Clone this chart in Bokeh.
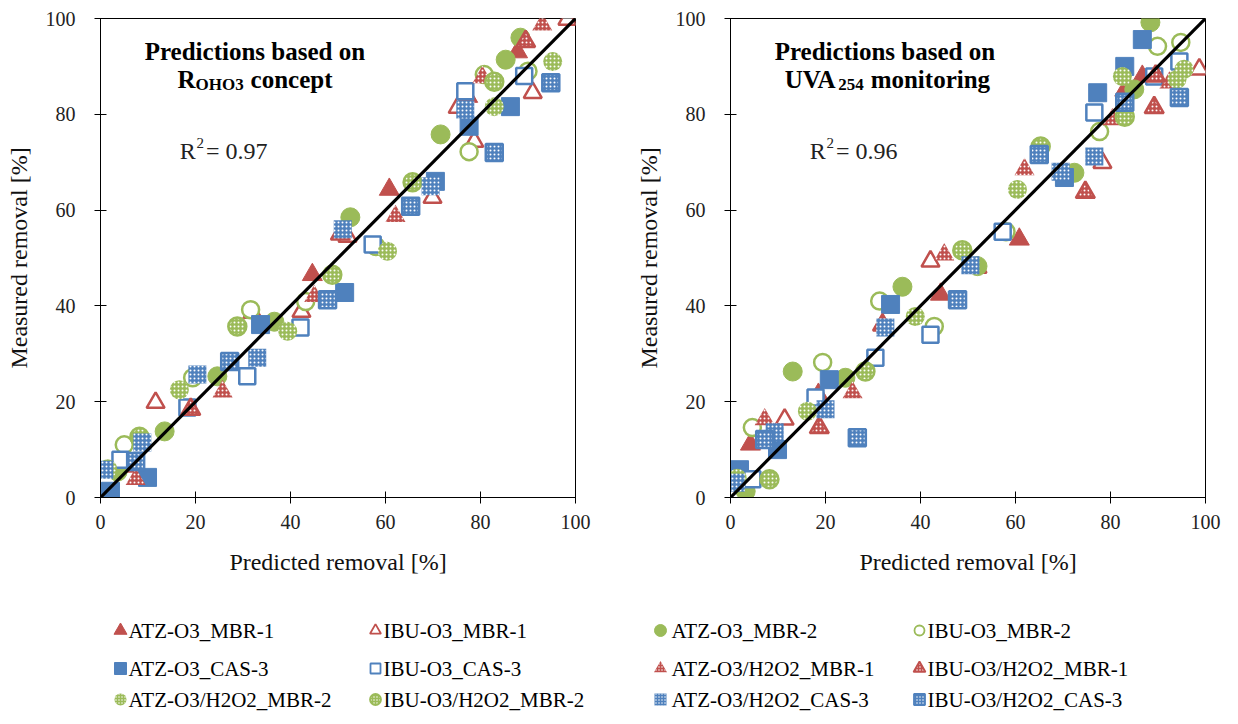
from bokeh.plotting import figure
from bokeh.models import Range1d, FixedTicker, Label
from bokeh.layouts import column, row
from bokeh.embed import file_html
from bokeh.resources import INLINE
from bokeh.core.properties import value

SERIES = ["ATZ-O3_MBR-1", "IBU-O3_MBR-1", "ATZ-O3_MBR-2", "IBU-O3_MBR-2",
          "ATZ-O3_CAS-3", "IBU-O3_CAS-3", "ATZ-O3/H2O2_MBR-1", "IBU-O3/H2O2_MBR-1",
          "ATZ-O3/H2O2_MBR-2", "IBU-O3/H2O2_MBR-2", "ATZ-O3/H2O2_CAS-3", "IBU-O3/H2O2_CAS-3"]
TICKS = [0, 20, 40, 60, 80, 100]
IDENTITY = [0, 100]

# ---- Left panel: predictions based on R_OHO3 concept (predicted, measured removal %) ----
A_ATZ_O3_MBR1_PRED = [5.3, 32.0, 44.6, 60.8, 77.3, 87.8]
A_ATZ_O3_MBR1_MEAS = [6.5, 38.6, 46.5, 64.3, 83.7, 93.0]
A_IBU_O3_MBR1_PRED = [11.6, 42.3, 52.0, 69.9, 75.2, 78.7, 91.0, 98.3]
A_IBU_O3_MBR1_MEAS = [19.8, 38.8, 54.5, 62.6, 81.4, 74.3, 84.5, 99.8]
A_ATZ_O3_MBR2_PRED = [3.6, 13.5, 24.6, 36.6, 52.6, 71.6, 85.3, 88.4]
A_ATZ_O3_MBR2_MEAS = [5.4, 13.8, 25.3, 36.7, 58.5, 75.8, 91.4, 96.0]
A_IBU_O3_MBR2_PRED = [5.0, 19.4, 31.6, 43.2, 58.0, 77.6, 80.8, 90.0]
A_IBU_O3_MBR2_MEAS = [11.0, 25.0, 39.2, 40.9, 52.4, 72.2, 88.3, 89.0]
A_ATZ_O3_CAS3_PRED = [2.1, 9.9, 33.7, 51.4, 70.5, 77.6, 86.3]
A_ATZ_O3_CAS3_MEAS = [1.3, 4.2, 36.1, 42.8, 66.0, 77.5, 81.6]
A_IBU_O3_CAS3_PRED = [4.2, 18.3, 30.9, 42.1, 57.3, 76.8, 89.2]
A_IBU_O3_CAS3_MEAS = [7.9, 18.8, 25.3, 35.5, 52.8, 84.8, 88.0]
A_ATZ_H2O2_MBR1_PRED = [7.4, 25.7, 45.0, 62.1, 80.4, 93.0]
A_ATZ_H2O2_MBR1_MEAS = [3.8, 22.1, 42.0, 58.7, 87.7, 98.7]
A_IBU_H2O2_MBR1_PRED = [19.0, 50.5, 89.5]
A_IBU_H2O2_MBR1_MEAS = [18.4, 55.0, 95.2]
A_ATZ_H2O2_MBR2_PRED = [1.5, 16.6, 39.4, 60.4, 82.9, 95.2]
A_ATZ_H2O2_MBR2_MEAS = [6.0, 22.5, 34.7, 51.4, 81.6, 91.0]
A_IBU_H2O2_MBR2_PRED = [8.2, 28.8, 48.8, 65.7, 82.9]
A_IBU_H2O2_MBR2_MEAS = [12.7, 35.7, 46.5, 65.8, 86.8]
A_ATZ_H2O2_CAS3_PRED = [0.8, 8.8, 20.4, 33.0, 51.0, 69.5, 76.8]
A_ATZ_H2O2_CAS3_MEAS = [5.8, 11.5, 25.7, 29.2, 56.0, 65.0, 81.0]
A_IBU_H2O2_CAS3_PRED = [7.4, 27.2, 47.8, 65.3, 82.9, 94.8]
A_IBU_H2O2_CAS3_MEAS = [7.5, 28.4, 41.3, 60.8, 72.0, 86.6]

# ---- Right panel: predictions based on UVA254 monitoring ----
B_ATZ_O3_MBR1_PRED = [4.2, 18.5, 44.2, 60.8, 83.0, 86.7]
B_ATZ_O3_MBR1_MEAS = [11.1, 21.5, 42.4, 53.9, 85.0, 87.9]
B_IBU_O3_MBR1_PRED = [11.4, 42.1, 52.0, 78.3, 98.7]
B_IBU_O3_MBR1_MEAS = [16.3, 49.3, 48.0, 69.9, 89.4]
B_ATZ_O3_MBR2_PRED = [3.2, 13.1, 24.2, 36.2, 52.0, 72.4, 85.0, 88.4]
B_ATZ_O3_MBR2_MEAS = [1.3, 26.3, 25.0, 44.0, 48.3, 67.8, 85.2, 99.2]
B_IBU_O3_MBR2_PRED = [4.6, 19.4, 31.4, 42.9, 58.0, 77.7, 89.9, 94.8]
B_IBU_O3_MBR2_MEAS = [14.6, 28.2, 41.0, 35.7, 55.5, 76.4, 94.2, 95.0]
B_ATZ_O3_CAS3_PRED = [1.9, 9.9, 20.8, 33.7, 70.3, 77.3, 83.0, 86.7]
B_ATZ_O3_CAS3_MEAS = [5.8, 10.0, 24.6, 40.3, 66.8, 84.5, 90.0, 95.6]
B_IBU_O3_CAS3_PRED = [4.6, 17.9, 30.5, 42.1, 57.3, 76.6, 89.2, 94.5]
B_IBU_O3_CAS3_MEAS = [3.8, 20.9, 29.2, 34.0, 55.5, 80.4, 87.9, 91.0]
B_ATZ_H2O2_MBR1_PRED = [7.2, 25.7, 45.0, 61.9, 80.4, 92.4]
B_ATZ_H2O2_MBR1_MEAS = [16.3, 21.9, 50.7, 68.5, 78.9, 86.6]
B_IBU_H2O2_MBR1_PRED = [18.7, 32.0, 74.7, 89.2, 89.5]
B_IBU_H2O2_MBR1_MEAS = [14.6, 36.0, 63.7, 81.4, 88.0]
B_ATZ_H2O2_MBR2_PRED = [1.4, 16.2, 38.9, 60.4, 82.5, 94.0, 95.5]
B_ATZ_H2O2_MBR2_MEAS = [4.0, 18.0, 37.8, 64.3, 87.9, 87.3, 89.4]
B_IBU_H2O2_MBR2_PRED = [8.2, 28.4, 48.8, 65.3, 83.0]
B_IBU_H2O2_MBR2_MEAS = [3.8, 26.3, 51.6, 73.3, 79.5]
B_ATZ_H2O2_CAS3_PRED = [1.1, 9.3, 20.0, 32.6, 50.5, 69.5, 76.6]
B_ATZ_H2O2_CAS3_MEAS = [3.1, 13.6, 18.4, 35.5, 48.5, 68.0, 71.2]
B_IBU_H2O2_CAS3_PRED = [7.2, 26.7, 47.8, 65.0, 83.0, 94.5]
B_IBU_H2O2_CAS3_MEAS = [12.1, 12.5, 41.3, 71.6, 82.5, 83.5]

LEFT = [
    (A_ATZ_O3_MBR1_PRED, A_ATZ_O3_MBR1_MEAS), (A_IBU_O3_MBR1_PRED, A_IBU_O3_MBR1_MEAS),
    (A_ATZ_O3_MBR2_PRED, A_ATZ_O3_MBR2_MEAS), (A_IBU_O3_MBR2_PRED, A_IBU_O3_MBR2_MEAS),
    (A_ATZ_O3_CAS3_PRED, A_ATZ_O3_CAS3_MEAS), (A_IBU_O3_CAS3_PRED, A_IBU_O3_CAS3_MEAS),
    (A_ATZ_H2O2_MBR1_PRED, A_ATZ_H2O2_MBR1_MEAS), (A_IBU_H2O2_MBR1_PRED, A_IBU_H2O2_MBR1_MEAS),
    (A_ATZ_H2O2_MBR2_PRED, A_ATZ_H2O2_MBR2_MEAS), (A_IBU_H2O2_MBR2_PRED, A_IBU_H2O2_MBR2_MEAS),
    (A_ATZ_H2O2_CAS3_PRED, A_ATZ_H2O2_CAS3_MEAS), (A_IBU_H2O2_CAS3_PRED, A_IBU_H2O2_CAS3_MEAS),
]
RIGHT = [
    (B_ATZ_O3_MBR1_PRED, B_ATZ_O3_MBR1_MEAS), (B_IBU_O3_MBR1_PRED, B_IBU_O3_MBR1_MEAS),
    (B_ATZ_O3_MBR2_PRED, B_ATZ_O3_MBR2_MEAS), (B_IBU_O3_MBR2_PRED, B_IBU_O3_MBR2_MEAS),
    (B_ATZ_O3_CAS3_PRED, B_ATZ_O3_CAS3_MEAS), (B_IBU_O3_CAS3_PRED, B_IBU_O3_CAS3_MEAS),
    (B_ATZ_H2O2_MBR1_PRED, B_ATZ_H2O2_MBR1_MEAS), (B_IBU_H2O2_MBR1_PRED, B_IBU_H2O2_MBR1_MEAS),
    (B_ATZ_H2O2_MBR2_PRED, B_ATZ_H2O2_MBR2_MEAS), (B_IBU_H2O2_MBR2_PRED, B_IBU_H2O2_MBR2_MEAS),
    (B_ATZ_H2O2_CAS3_PRED, B_ATZ_H2O2_CAS3_MEAS), (B_IBU_H2O2_CAS3_PRED, B_IBU_H2O2_CAS3_MEAS),
]

# ---- styles ----
RED, GREEN, BLUE = "#C0504D", "#9BBB59", "#4F81BD"
STYLES = [
    ("triangle", RED, "filled"), ("triangle", RED, "open"),
    ("circle", GREEN, "filled"), ("circle", GREEN, "open"),
    ("square", BLUE, "filled"), ("square", BLUE, "open"),
    ("triangle", RED, "hatch"), ("triangle", RED, "hatchb"),
    ("circle", GREEN, "hatch"), ("circle", GREEN, "hatchb"),
    ("square", BLUE, "hatch"), ("square", BLUE, "hatchb"),
]
SIZES = {"triangle": 20, "circle": 19, "square": 18}
FONT = "Liberation Serif"


def add_markers(p, xs, ys, marker, color, kind, size, lw=2.5, hscale=4, hw=2.4):
    kw = dict(marker=marker, size=size)
    if kind == "filled":
        kw.update(fill_color=color, line_color=color, line_width=1)
    elif kind == "open":
        kw.update(fill_color="white", line_color=color, line_width=lw, size=size - 2)
    elif kind == "hatch":
        kw.update(fill_color=color, line_color=None, hatch_pattern="dot",
                  hatch_color="white", hatch_scale=hscale, hatch_weight=hw + 0.6)
    else:
        kw.update(fill_color=color, line_color=color, line_width=lw, size=size - 1,
                  hatch_pattern="dot", hatch_color="white", hatch_scale=hscale, hatch_weight=hw)
    p.scatter(xs, ys, **kw)


def make_panel(data, width, right_border, title2_parts, r2_text):
    p = figure(width=width, height=587, x_range=Range1d(0, 100), y_range=Range1d(0, 100),
               output_backend="svg", toolbar_location=None,
               min_border_left=100, min_border_right=right_border,
               min_border_top=18, min_border_bottom=90)
    p.xgrid.visible = False
    p.ygrid.visible = False
    p.outline_line_color = "black"
    p.outline_line_width = 1
    p.background_fill_color = "white"
    p.border_fill_color = "white"
    for ax in (p.xaxis[0], p.yaxis[0]):
        ax.ticker = FixedTicker(ticks=TICKS)
        ax.axis_line_color = "black"
        ax.major_tick_line_color = "black"
        ax.major_tick_in = 6
        ax.major_tick_out = 6
        ax.minor_tick_line_color = None
        ax.major_label_text_font = FONT
        ax.major_label_text_font_size = "20px"
        ax.major_label_text_color = "#222222"
        ax.axis_label_text_font = FONT
        ax.axis_label_text_font_size = "24px"
        ax.axis_label_text_font_style = "normal"
        ax.axis_label_text_color = "#111111"
    p.xaxis.axis_label = "Predicted removal [%]"
    p.yaxis.axis_label = "Measured removal [%]"
    p.xaxis.major_label_standoff = 11
    p.xaxis.axis_label_standoff = 17
    p.yaxis.major_label_standoff = 19
    p.yaxis.axis_label_standoff = 11

    for (xs, ys), (marker, color, kind) in zip(data, STYLES):
        add_markers(p, xs, ys, marker, color, kind, SIZES[marker])

    p.line(IDENTITY, IDENTITY, line_color="black", line_width=3.2)

    # title inside the frame
    p.add_layout(Label(x=32.5, y=93.1, text="Predictions based on", text_align="center",
                       text_baseline="alphabetic", text_font=FONT, text_font_size="25px",
                       text_font_style="bold", text_color="black"))
    for (tx, ty, txt, fs) in title2_parts:
        p.add_layout(Label(x=tx, y=ty, text=txt, text_align="left", text_baseline="alphabetic",
                           text_font=FONT, text_font_size=fs, text_font_style="bold",
                           text_color="black"))
    # R^2 annotation
    p.add_layout(Label(x=16.7, y=72.3, text="R", text_baseline="alphabetic", text_font=FONT,
                       text_font_size="24px", text_color="#222222"))
    p.add_layout(Label(x=20.2, y=74.1, text="2", text_baseline="alphabetic", text_font=FONT,
                       text_font_size="15px", text_color="#222222"))
    p.add_layout(Label(x=22.2, y=72.3, text=r2_text, text_baseline="alphabetic", text_font=FONT,
                       text_font_size="24px", text_color="#222222"))
    return p


left_title = [(16.2, 87.3, "R", "25px"), (20.0, 86.3, "OHO3", "17px"), (31.6, 87.3, "concept", "25px")]
right_title = [(11.4, 87.3, "UVA", "25px"), (22.7, 86.3, "254", "17px"), (29.5, 87.3, "monitoring", "25px")]

p1 = make_panel(LEFT, 630, 55, left_title, "= 0.97")
p2 = make_panel(RIGHT, 595, 20, right_title, "= 0.96")

# ---- legend panel ----
LEG_W, LEG_H = 1225, 127
leg = figure(width=LEG_W, height=LEG_H, x_range=Range1d(0, LEG_W), y_range=Range1d(LEG_H, 0),
             output_backend="svg", toolbar_location=None, min_border=0)
leg.axis.visible = False
leg.xgrid.visible = False
leg.ygrid.visible = False
leg.outline_line_color = None
COL_MARK_X = [120, 375, 660, 919]
COL_TEXT_X = [128, 383, 671, 927]
ROW_Y = [43, 81, 112]
for i, (name, (marker, color, kind)) in enumerate(zip(SERIES, STYLES)):
    r, c = divmod(i, 4)
    sz = 13 if marker == "triangle" else 12
    add_markers(leg, [COL_MARK_X[c]], [ROW_Y[r]], marker, color, kind, sz, lw=1.8, hscale=3, hw=1.6)
    leg.text([COL_TEXT_X[c]], [ROW_Y[r]], text=[name], text_font=value(FONT),
             text_font_size="21px", text_baseline="middle", text_align="left", text_color="black")

layout = column(row(p1, p2), leg)
open("out.html", "w").write(file_html(layout, INLINE))
